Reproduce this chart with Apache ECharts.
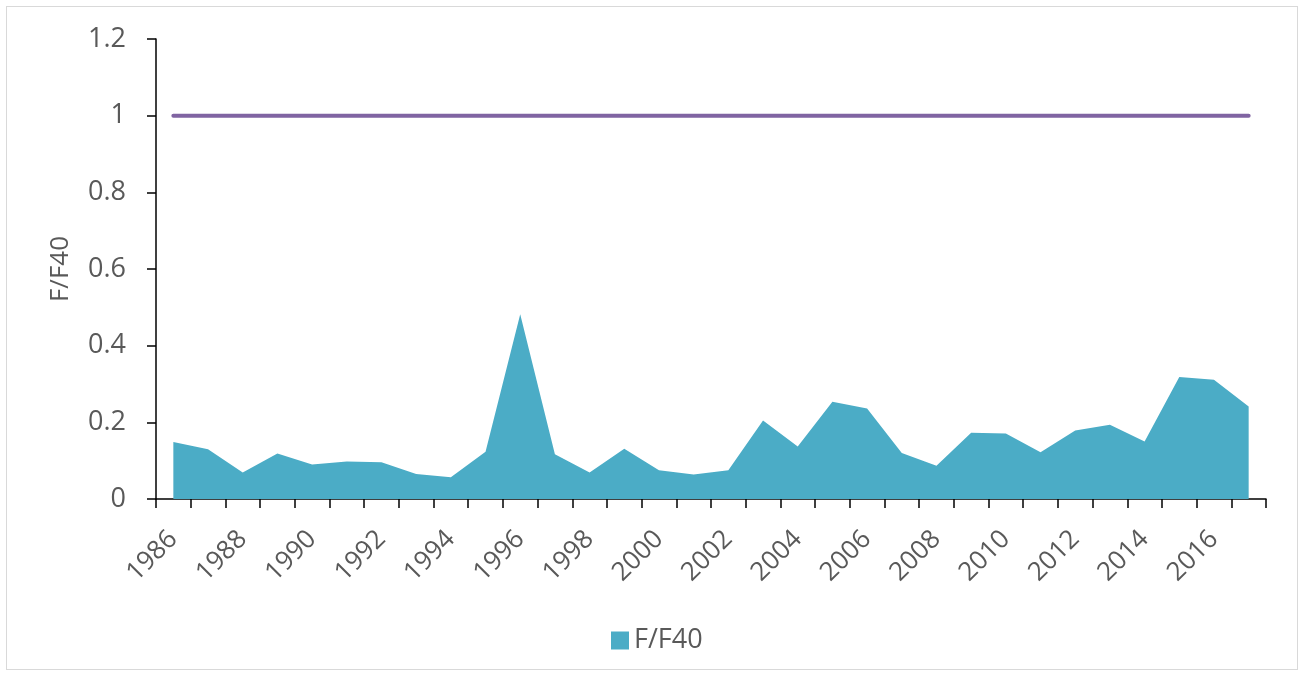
<!DOCTYPE html>
<html>
<head>
<meta charset="utf-8">
<script src="https://cdn.jsdelivr.net/npm/echarts@6/dist/echarts.min.js"></script>
<style>
  html, body { margin: 0; padding: 0; background: #fff; }
  #frame { position: absolute; left: 6px; top: 6px; width: 1290px; height: 662px; border: 1px solid #d9d9d9; }
  #chart { position: absolute; left: 0; top: 0; width: 1304px; height: 676px; }
</style>
</head>
<body>
<div id="frame"></div>
<div id="chart"></div>
<script>
const years = ['1986','1987','1988','1989','1990','1991','1992','1993','1994','1995','1996','1997','1998','1999','2000','2001','2002','2003','2004','2005','2006','2007','2008','2009','2010','2011','2012','2013','2014','2015','2016','2017'];
const fF40 = [0.149,0.130,0.069,0.119,0.090,0.098,0.096,0.065,0.057,0.123,0.482,0.117,0.069,0.131,0.075,0.064,0.075,0.205,0.137,0.254,0.236,0.120,0.087,0.173,0.171,0.122,0.179,0.194,0.150,0.318,0.311,0.241];
const reference = [1,1,1,1,1,1,1,1,1,1,1,1,1,1,1,1,1,1,1,1,1,1,1,1,1,1,1,1,1,1,1,1];
const yTicks = [0, 0.2, 0.4, 0.6, 0.8, 1, 1.2];

const chart = echarts.init(document.getElementById('chart'));
const font = '"Open Sans", "Noto Sans", sans-serif';
chart.setOption({
  backgroundColor: 'transparent',
  animation: false,
  textStyle: { fontFamily: font },
  grid: { left: 156, top: 39, right: 38, bottom: 177 },
  legend: {
    data: ['F/F40'],
    left: 606, top: 622,
    itemWidth: 18, itemHeight: 18, itemGap: 10,
    icon: 'rect',
    textStyle: { fontSize: 27, color: '#595959', fontFamily: font }
  },
  xAxis: {
    type: 'category',
    data: years,
    boundaryGap: true,
    axisLine: { lineStyle: { color: '#000', width: 1.5 } },
    axisTick: { show: true, interval: 0, length: 9, lineStyle: { color: '#000', width: 1.5 } },
    axisLabel: { interval: 1, rotate: 45, fontSize: 26, color: '#595959', margin: 36, fontFamily: font },
    splitLine: { show: false }
  },
  yAxis: {
    type: 'value',
    min: 0, max: 1.2, interval: 0.2,
    name: 'F/F40',
    nameLocation: 'middle',
    nameGap: 82,
    nameRotate: 90,
    nameTextStyle: { fontSize: 26, color: '#595959', fontFamily: font },
    axisLine: { show: true, lineStyle: { color: '#000', width: 1.5 } },
    axisTick: { show: true, length: 9, lineStyle: { color: '#000', width: 1.5 } },
    axisLabel: {
      fontSize: 27, color: '#595959', margin: 30, fontFamily: font,
      formatter: v => { const m = yTicks.find(t => Math.abs(t - v) < 1e-9); return String(m !== undefined ? m : v); }
    },
    splitLine: { show: false }
  },
  series: [
    {
      name: 'F/F40',
      type: 'line',
      data: fF40,
      symbol: 'none',
      lineStyle: { width: 0 },
      itemStyle: { color: '#4BACC6' },
      areaStyle: { color: '#4BACC6', opacity: 1 },
      z: 2
    },
    {
      name: 'Target',
      type: 'line',
      data: reference,
      symbol: 'none',
      lineStyle: { width: 4, color: '#8064A2', cap: 'round' },
      itemStyle: { color: '#8064A2' },
      z: 3
    }
  ]
});
</script>
</body>
</html>
